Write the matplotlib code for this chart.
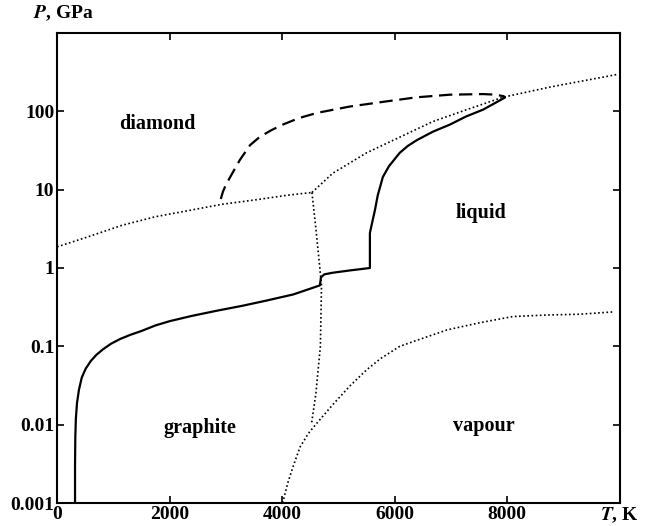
import numpy as np
import matplotlib.pyplot as plt
from matplotlib.ticker import NullLocator

plt.rcParams['font.family'] = ['Liberation Serif', 'DejaVu Serif']
plt.rcParams['font.weight'] = 'bold'
plt.rcParams['mathtext.fontset'] = 'stix'

# solid line: graphite / liquid boundary and its continuation
t_solid = [320, 320, 325, 335, 355, 390, 440, 510, 600, 700, 820, 960, 1120, 1300, 1500,
           1750, 2007, 2400, 2842, 3300, 3730, 4200, 4671,
           4690, 4750, 4900, 5200, 5560, 5560, 5600, 5650, 5700, 5790, 5900, 6090, 6230,
           6390, 6680, 6980, 7270, 7570, 7870, 7960, 7930]
p_solid = [0.001, 0.003, 0.007, 0.012, 0.019, 0.028, 0.04, 0.052, 0.065, 0.078, 0.092,
           0.108, 0.124, 0.14, 0.157, 0.185, 0.21, 0.245, 0.285, 0.33, 0.385, 0.46, 0.6,
           0.76, 0.83, 0.87, 0.93, 1.0, 2.8, 3.8, 5.5, 8.5, 14.5, 20, 29.5, 36,
           42.7, 55, 67.6, 86, 105, 138, 150, 155]

# dashed line (diamond spinodal)
t_dash = [2910, 2950, 3000, 3100, 3250, 3430, 3600, 3800, 4010, 4300, 4620, 5200, 5790,
          6390, 6980, 7570, 7800, 7950]
p_dash = [7.6, 9.5, 11.5, 15.5, 24.0, 37.0, 47.0, 57.0, 67.6, 82.0, 95.5, 115, 132,
          151, 163, 166, 163, 155]

# dotted: graphite / diamond
t_gd = [0, 550, 1150, 1740, 2330, 2930, 3520, 4100, 4530]
p_gd = [1.86, 2.5, 3.5, 4.5, 5.4, 6.5, 7.4, 8.5, 9.2]

# dotted: diamond / liquid
t_dl = [4530, 4900, 5500, 6090, 6680, 7280, 7920, 8760, 9950]
p_dl = [9.2, 16.2, 29.5, 46.8, 74.1, 105, 151, 204, 295]

# dotted: graphite / liquid (nearly vertical)
t_gl = [4530, 4600, 4670, 4700, 4680, 4600, 4520]
p_gl = [9.2, 3.2, 1.0, 0.6, 0.1, 0.025, 0.01]

# dotted: vapour curve
t_vap = [4010, 4100, 4200, 4320, 4470, 4620, 4900, 5200, 5500, 5740, 6090, 6330, 6930,
         7510, 8100, 8700, 9290, 9880]
p_vap = [0.001, 0.0018, 0.003, 0.0052, 0.0078, 0.0105, 0.018, 0.031, 0.05, 0.069, 0.1,
         0.115, 0.162, 0.2, 0.24, 0.251, 0.257, 0.275]

phase_names = ['diamond', 'liquid', 'graphite', 'vapour']
phase_t = [1776, 7530, 2540, 7580]
phase_p = [68, 5.1, 0.009, 0.0095]

fig = plt.figure(figsize=(6.51, 5.26), dpi=100)
ax = fig.add_axes([0.0876, 0.0437, 0.8644, 0.8936])

ax.plot(t_solid, p_solid, '-', c='black', lw=1.6)
ax.plot(t_dash, p_dash, '--', c='black', lw=1.6, dashes=(6, 3))
for t, p in [(t_gd, p_gd), (t_dl, p_dl), (t_gl, p_gl), (t_vap, p_vap)]:
    ax.plot(t, p, ':', c='black', lw=1.2, dashes=(1, 1.5))

for name, t, p in zip(phase_names, phase_t, phase_p):
    ax.text(t, p, name, fontsize=14.5, ha='center', va='center')

ax.set_yscale('log')
ax.set_xlim(0, 10000)
ax.set_ylim(0.001, 1000)
ax.set_xticks([0, 2000, 4000, 6000, 8000, 10000])
ax.set_xticklabels(['0', '2000', '4000', '6000', '8000', '$T$, K'])
ax.set_yticks([0.001, 0.01, 0.1, 1, 10, 100, 1000])
ax.set_yticklabels(['0.001', '0.01', '0.1', '1', '10', '100', ''])
ax.yaxis.set_minor_locator(NullLocator())
ax.tick_params(direction='in', length=5, width=1.2, top=True, right=True,
               labelsize=14, pad=2)
for s in ax.spines.values():
    s.set_linewidth(1.5)
ax.text(0.011, 1.022, '$P$, GPa', transform=ax.transAxes, fontsize=14,
        ha='center', va='bottom')

fig.savefig('out.png', dpi=100)
